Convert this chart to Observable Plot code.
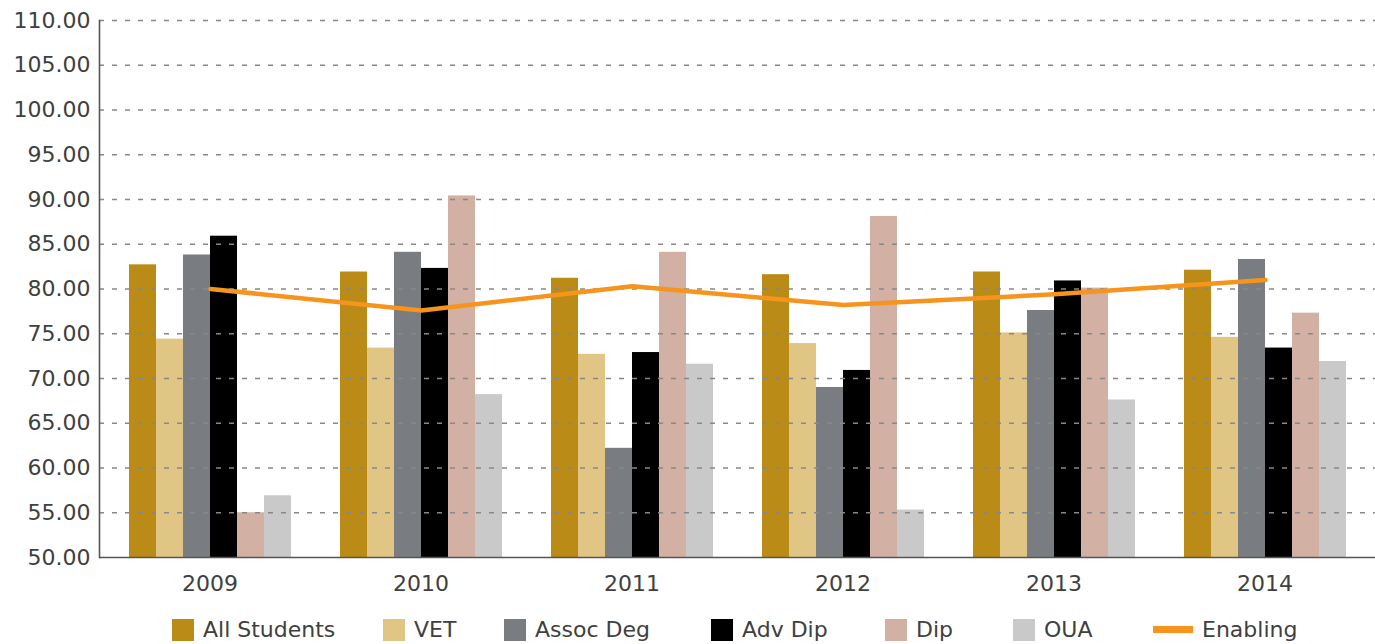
<!DOCTYPE html>
<html>
<head>
<meta charset="utf-8">
<script src="https://cdn.jsdelivr.net/npm/d3@7"></script>
<script src="https://cdn.jsdelivr.net/npm/@observablehq/plot@0.6"></script>
<style>
  body { margin: 0; background: #fff; font-family: "DejaVu Sans", sans-serif; }
  #wrap { position: relative; width: 1375px; height: 600px; }
  #wrap svg { position: absolute; left: 0; top: 0; }
  #legend { position: relative; width: 1375px; height: 44px; color: #404040; font-size: 22px; }
  .item { position: absolute; top: 17px; display: flex; align-items: center; white-space: nowrap; }
  .sw { width: 22px; height: 22px; margin-right: 9px; }
  .ln { width: 40px; height: 7px; margin-right: 9px; }
</style>
</head>
<body>
<div id="wrap"></div>
<div id="legend"></div>
<script>
const years = ["2009", "2010", "2011", "2012", "2013", "2014"];
const seriesNames = ["All Students", "VET", "Assoc Deg", "Adv Dip", "Dip", "OUA"];
const allStudents = [82.7, 81.9, 81.2, 81.6, 81.9, 82.1];
const vet         = [74.4, 73.4, 72.7, 73.9, 75.1, 74.6];
const assocDeg    = [83.8, 84.1, 62.2, 69.0, 77.6, 83.3];
const advDip      = [85.9, 82.3, 72.9, 70.9, 80.9, 73.4];
const dip         = [55.0, 90.4, 84.1, 88.1, 80.1, 77.3];
const oua         = [56.9, 68.2, 71.6, 55.3, 67.6, 71.9];
const enabling    = [80.0, 77.6, 80.3, 78.2, 79.4, 81.0];
const lineName = "Enabling";

const colors = ["#BA8B16", "#E0C584", "#797C80", "#000000", "#D2B0A4", "#C8C9C8"];
const lineColor = "#F7941D";
const legendLeft = [172, 383, 504, 711, 885, 1013, 1153];

const seriesValues = [allStudents, vet, assocDeg, advDip, dip, oua];
const bars = [];
years.forEach((yr, i) => seriesNames.forEach((s, k) => bars.push({year: yr, series: s, value: seriesValues[k][i]})));
const lineData = years.map((yr, i) => ({year: yr, value: enabling[i]}));

const W = 1375, H = 600, ML = 99, MR = 0, MT = 20, MB = 43;
const padInner = 0.2257, padOuter = 0.125;

const barPlot = Plot.plot({
  width: W, height: H, marginLeft: ML, marginRight: MR, marginTop: MT, marginBottom: MB,
  style: {fontFamily: "DejaVu Sans", fontSize: "22px", color: "#404040", background: "white"},
  fx: {domain: years, paddingInner: padInner, paddingOuter: padOuter, label: null, tickSize: 0, tickPadding: 18},
  x: {domain: seriesNames, padding: 0, axis: null},
  y: {domain: [50, 110], axis: null},
  color: {domain: seriesNames, range: colors},
  marks: [
    Plot.barY(bars, {fx: "year", x: "series", y1: 50, y2: "value", fill: "series", inset: 0})
  ]
});

const overlay = Plot.plot({
  width: W, height: H, marginLeft: ML, marginRight: MR, marginTop: MT, marginBottom: MB,
  style: {fontFamily: "DejaVu Sans", fontSize: "22px", color: "#404040", background: "transparent"},
  x: {type: "point", domain: years, padding: padOuter + (1 - padInner) / 2, axis: null},
  y: {domain: [50, 110], ticks: 12, tickFormat: d3.format(".2f"), tickSize: 0, tickPadding: 9, label: null},
  marks: [
    Plot.ruleY(d3.range(55, 111, 5), {stroke: "#888", strokeWidth: 1.3, strokeDasharray: "5,8"}),
    Plot.ruleY([50], {stroke: "#555", strokeWidth: 1.6}),
    Plot.frame({anchor: "left", stroke: "#555", strokeWidth: 1.6}),
    Plot.line(lineData, {x: "year", y: "value", stroke: lineColor, strokeWidth: 4.5})
  ]
});

const wrap = document.getElementById("wrap");
wrap.appendChild(barPlot);
wrap.appendChild(overlay);

const legend = document.getElementById("legend");
seriesNames.forEach((s, k) => {
  const it = document.createElement("div"); it.className = "item";
  it.style.left = legendLeft[k] + "px";
  it.innerHTML = `<div class="sw" style="background:${colors[k]}"></div><span>${s}</span>`;
  legend.appendChild(it);
});
const li = document.createElement("div"); li.className = "item";
li.style.left = legendLeft[6] + "px";
li.innerHTML = `<div class="ln" style="background:${lineColor}"></div><span>${lineName}</span>`;
legend.appendChild(li);
</script>
</body>
</html>
